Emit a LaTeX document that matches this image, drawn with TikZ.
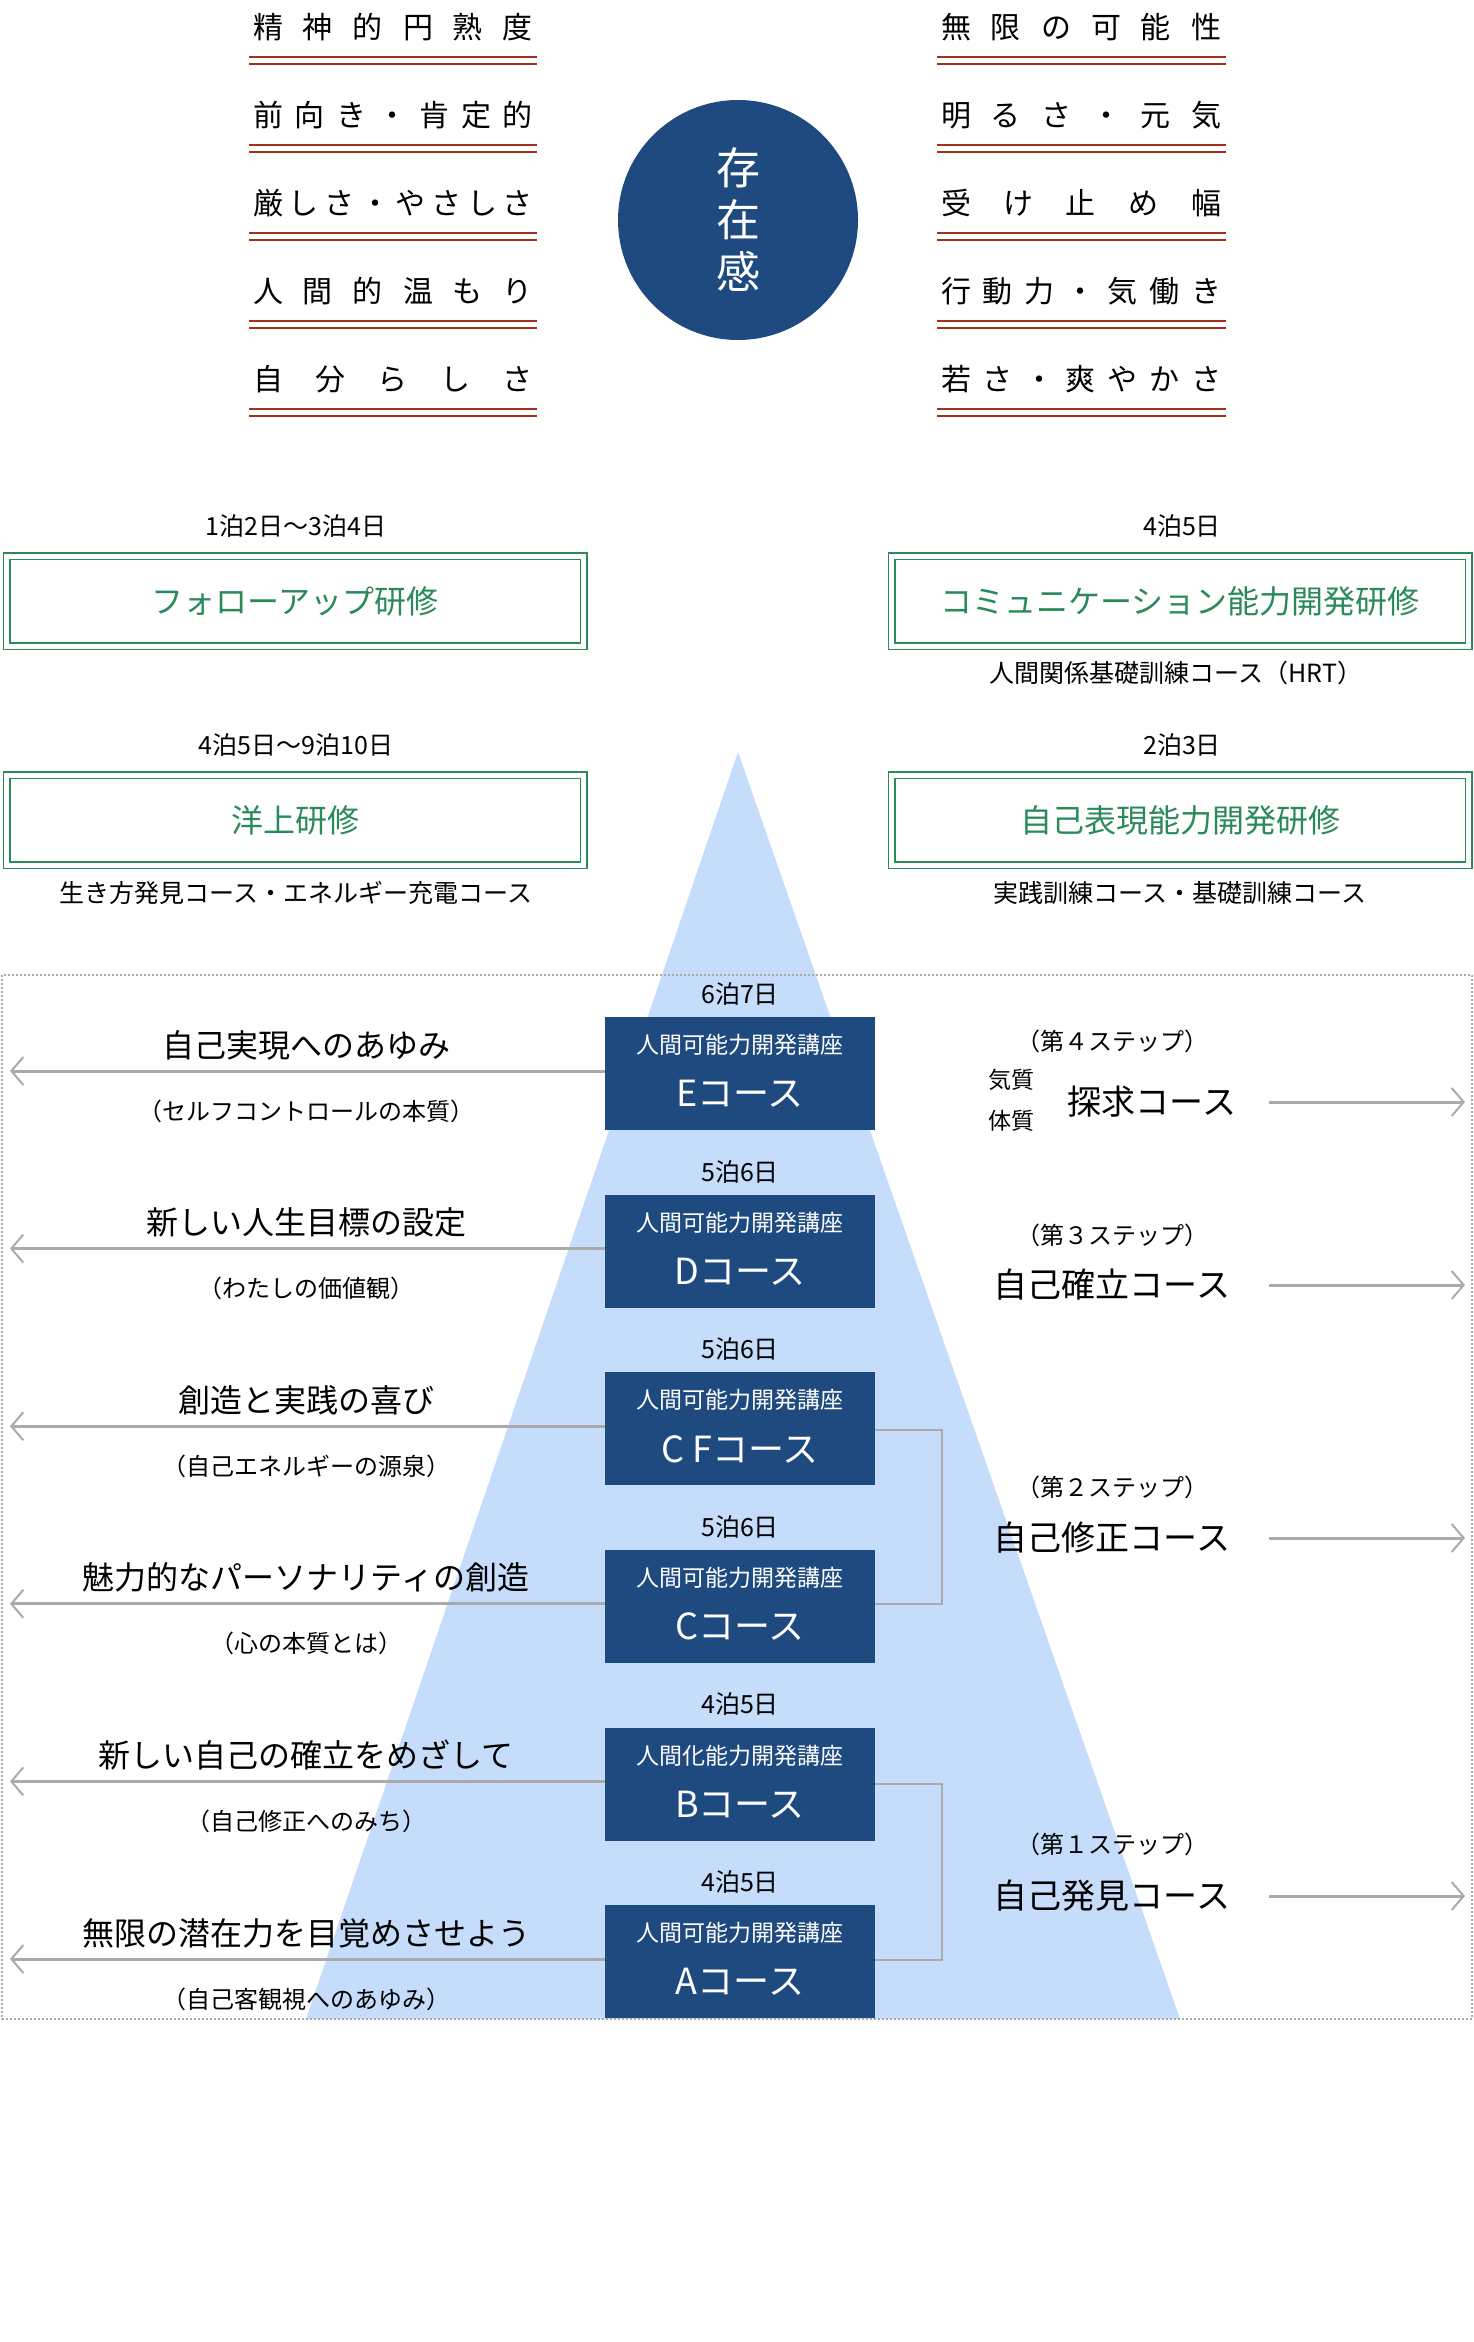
\documentclass[tikz,border=0pt]{standalone}
\usepackage{fontspec}
\setmainfont{Noto Sans CJK JP}
\usetikzlibrary{arrows.meta}
\definecolor{navy}{HTML}{1F4A80}
\definecolor{redl}{HTML}{A0301A}
\definecolor{grn}{HTML}{2A8A5A}
\definecolor{sky}{HTML}{C5DCFA}
\definecolor{gry}{HTML}{AAAAAA}
\newcommand{\spreadbox}[1]{\makebox[280pt][s]{#1}}
\newcommand{\hf}{\hfill}
\begin{document}
\begin{tikzpicture}[x=1pt,y=-1pt,
  toplab/.style={font=\fontsize{30}{30}\selectfont,inner sep=0},
  gbox/.style={draw=grn,line width=1.5pt,double=white,double distance=5pt,minimum width=577pt,minimum height=90pt,text=grn,font=\fontsize{32}{32}\selectfont},
  small/.style={font=\fontsize{25}{25}\selectfont,inner sep=0},
  bbox/.style={fill=navy,minimum width=270pt,minimum height=113pt,inner sep=0},
  ltitle/.style={font=\fontsize{32}{32}\selectfont,inner sep=0},
  rtitle/.style={font=\fontsize{34}{34}\selectfont,inner sep=0},
  lsub/.style={font=\fontsize{24}{24}\selectfont,inner sep=0},
  garrow/.style={draw=gry,line width=3pt,-{Straight Barb[length=12pt,width=28pt,line width=2pt]}},
  brk/.style={draw=gry,line width=2pt}]
\fill[white] (0,0) rectangle (1474,2342);
% top labels
\foreach \tx [count=\i] in {{精\hf{}神\hf{}的\hf{}円\hf{}熟\hf{}度},{前\hf{}向\hf{}き\hf{}・\hf{}肯\hf{}定\hf{}的},{厳\hf{}し\hf{}さ\hf{}・\hf{}や\hf{}さ\hf{}し\hf{}さ},{人\hf{}間\hf{}的\hf{}温\hf{}も\hf{}り},{自\hf{}分\hf{}ら\hf{}し\hf{}さ}}{
  \pgfmathsetmacro{\yy}{27+(\i-1)*88}
  \node[toplab] (l\i) at (393,\yy) {\spreadbox{\tx}};
  \draw[redl,line width=2.5pt] (249,\yy+30) -- (537,\yy+30) (249,\yy+37) -- (537,\yy+37);
}
\foreach \tx [count=\i] in {{無\hf{}限\hf{}の\hf{}可\hf{}能\hf{}性},{明\hf{}る\hf{}さ\hf{}・\hf{}元\hf{}気},{受\hf{}け\hf{}止\hf{}め\hf{}幅},{行\hf{}動\hf{}力\hf{}・\hf{}気\hf{}働\hf{}き},{若\hf{}さ\hf{}・\hf{}爽\hf{}や\hf{}か\hf{}さ}}{
  \pgfmathsetmacro{\yy}{27+(\i-1)*88}
  \node[toplab] (r\i) at (1081,\yy) {\spreadbox{\tx}};
  \draw[redl,line width=2.5pt] (937,\yy+30) -- (1226,\yy+30) (937,\yy+37) -- (1226,\yy+37);
}
\node[circle,fill=navy,minimum size=240pt,text=white,font=\fontsize{44}{52}\selectfont,align=center] (sonzai) at (738,220) {存\\在\\感};
% green boxes
\node[small] (d1) at (296,526) {1泊2日～3泊4日};
\node[gbox] (g1) at (295,601) {フォローアップ研修};
\node[small] (d2) at (1182,526) {4泊5日};
\node[gbox] (g2) at (1180,601) {コミュニケーション能力開発研修};
\node[small] (s2) at (1176,673) {人間関係基礎訓練コース（HRT）};
\node[small] (d3) at (296,745) {4泊5日～9泊10日};
\node[gbox] (g3) at (295,820) {洋上研修};
\node[small] (s3) at (296,893) {生き方発見コース・エネルギー充電コース};
\node[small] (d4) at (1182,745) {2泊3日};
\node[gbox] (g4) at (1180,820) {自己表現能力開発研修};
\node[small] (s4) at (1180,893) {実践訓練コース・基礎訓練コース};
% triangle and dotted frame
\fill[sky] (738,752) -- (1180,2019) -- (306,2019) -- cycle;
\draw[gry,line width=2pt,dotted] (2,975) rectangle (1472,2019);
% course boxes
\foreach \nm/\dd/\tp/\cc [count=\i] in {E/6泊7日/人間可能力開発講座/Eコース, D/5泊6日/人間可能力開発講座/Dコース, CF/5泊6日/人間可能力開発講座/C Fコース, C/5泊6日/人間可能力開発講座/Cコース, B/4泊5日/人間化能力開発講座/Bコース, A/4泊5日/人間可能力開発講座/Aコース}{
  \pgfmathsetmacro{\yt}{1017+(\i-1)*177.6}
  \node[small] (day\nm) at (740,\yt-23) {\dd};
  \node[bbox,anchor=north west] (\nm) at (605,\yt) {};
  \node[font=\fontsize{23}{23}\selectfont,text=white,inner sep=0] (t\nm) at (740,\yt+28) {\tp};
  \node[font=\fontsize{36}{36}\selectfont,text=white,inner sep=0] (c\nm) at (740,\yt+77) {\cc};
}
% left arrows and texts
\foreach \nm/\ti/\su/\k in {E/自己実現へのあゆみ/（セルフコントロールの本質）/0, D/新しい人生目標の設定/（わたしの価値観）/1, CF/創造と実践の喜び/（自己エネルギーの源泉）/2, C/魅力的なパーソナリティの創造/（心の本質とは）/3, B/新しい自己の確立をめざして/（自己修正へのみち）/4, A/無限の潜在力を目覚めさせよう/（自己客観視へのあゆみ）/5}{
  \pgfmathsetmacro{\ya}{1071+\k*177.6}
  \coordinate (la\nm) at (10,\ya);
  \draw[garrow] (\nm.west |- la\nm) -- (la\nm);
  \node[ltitle] (lt\nm) at (306,\ya-26) {\ti};
  \node[lsub] (ls\nm) at (306,\ya+40) {\su};
}
% brackets
\coordinate (bk1) at (942,1430);
\coordinate (bk2) at (942,1604);
\draw[brk] (CF.east |- bk1) -- (bk1) -- (bk2) -- (C.east |- bk2);
\coordinate (bk3) at (942,1784);
\coordinate (bk4) at (942,1960);
\draw[brk] (B.east |- bk3) -- (bk3) -- (bk4) -- (A.east |- bk4);
% right texts
\node[lsub] (st4) at (1112,1041) {（第４ステップ）};
\node[font=\fontsize{23}{23}\selectfont,inner sep=0] (k1) at (1011,1080) {気質};
\node[font=\fontsize{23}{23}\selectfont,inner sep=0] (k2) at (1011,1121) {体質};
\node[rtitle] (rc4) at (1152,1102) {探求コース};
\node[lsub] (st3) at (1112,1235) {（第３ステップ）};
\node[rtitle] (rc3) at (1112,1285) {自己確立コース};
\node[lsub] (st2) at (1112,1487) {（第２ステップ）};
\node[rtitle] (rc2) at (1112,1538) {自己修正コース};
\node[lsub] (st1) at (1112,1844) {（第１ステップ）};
\node[rtitle] (rc1) at (1112,1896) {自己発見コース};
\coordinate (rs) at (1269,0);
\coordinate (re) at (1465,0);
\foreach \r in {4,3,2,1}{
  \draw[garrow] (rs |- rc\r.center) -- (re |- rc\r.center);
}
\end{tikzpicture}
\end{document}
